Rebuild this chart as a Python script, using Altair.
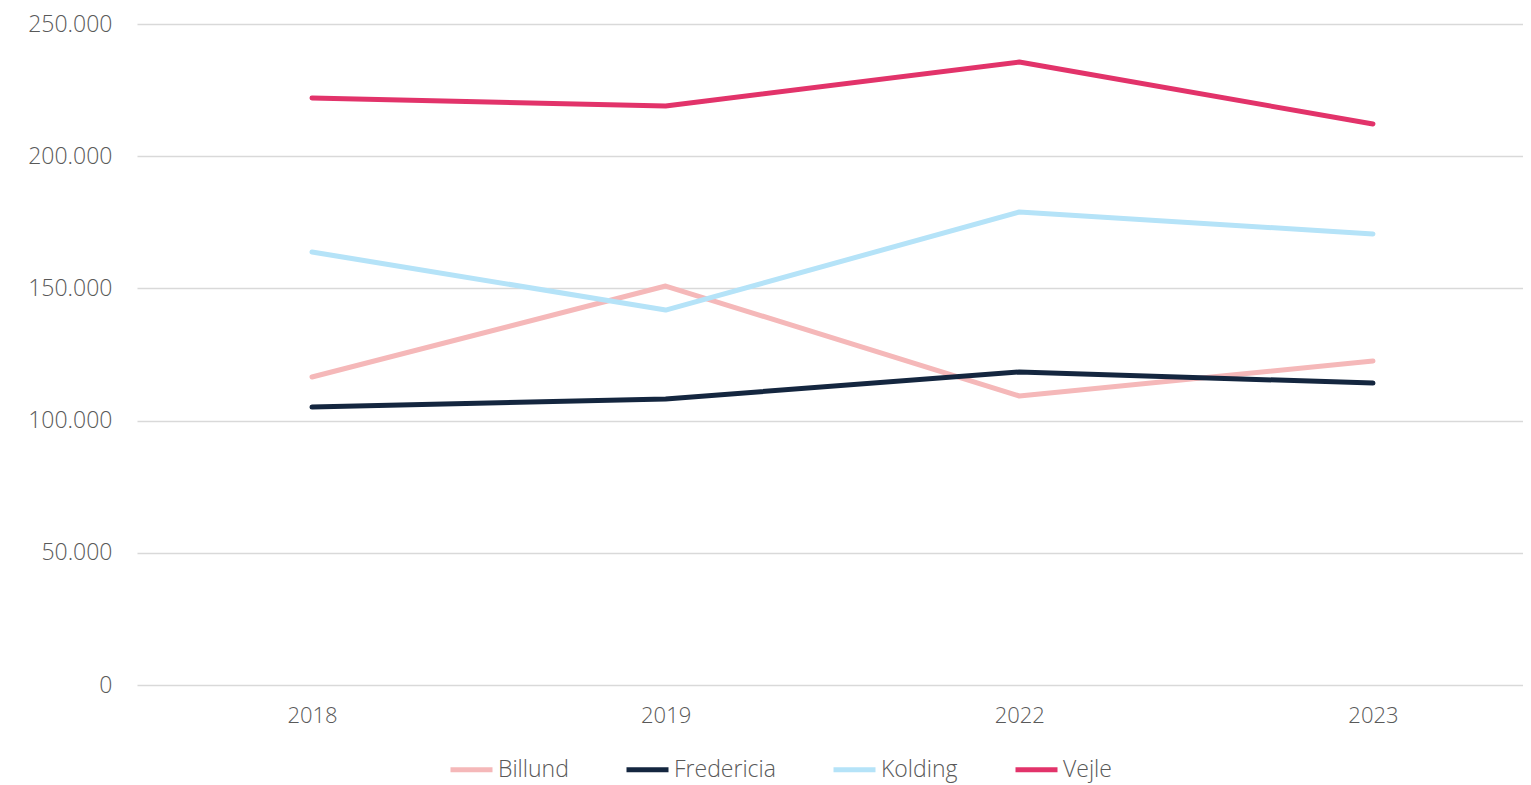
import altair as alt
import pandas as pd

years = ["2018", "2019", "2022", "2023"]
series = ["Billund", "Fredericia", "Kolding", "Vejle"]
billund = [116500, 150900, 109300, 122500]
fredericia = [105100, 108200, 118400, 114200]
kolding = [163800, 141800, 178900, 170600]
vejle = [222000, 219000, 235600, 212200]
colors = ["#F5B8B9", "#14263F", "#B5E3F8", "#E2336A"]

rows = []
for name, vals in zip(series, [billund, fredericia, kolding, vejle]):
    for y, v in zip(years, vals):
        rows.append({"År": y, "Kommune": name, "Værdi": v})
df = pd.DataFrame(rows)

FONT = "Open Sans"
GRAY = "#595959"

chart = alt.Chart(df).mark_line(strokeWidth=5, strokeCap="round", strokeJoin="round").encode(
    x=alt.X("År:O", sort=years,
            scale=alt.Scale(type="point", padding=0.4595, align=0.5384),
            axis=alt.Axis(title=None, labelAngle=0, domain=False, ticks=False,
                          labelPadding=20, labelFontSize=22, labelColor=GRAY, labelFont=FONT,
                          labelFontWeight=300, grid=False)),
    y=alt.Y("Værdi:Q", scale=alt.Scale(domain=[0, 250000], nice=False),
            axis=alt.Axis(title=None, values=[0, 50000, 100000, 150000, 200000, 250000],
                          labelExpr="replace(format(datum.value, ','), /,/g, '.')",
                          domain=False, ticks=False, labelPadding=25, labelFontSize=23,
                          labelColor=GRAY, labelFont=FONT, labelFontWeight=300,
                          gridColor="#D9D9D9", gridWidth=1.5)),
    color=alt.Color("Kommune:N", sort=series,
                    scale=alt.Scale(domain=series, range=colors),
                    legend=alt.Legend(title=None, orient="none", direction="horizontal",
                                      legendX=311, legendY=722,
                                      symbolType="stroke", symbolStrokeWidth=5,
                                      symbolSize=1764, labelFontSize=23, labelColor=GRAY,
                                      labelFont=FONT, labelFontWeight=300, labelOffset=3,
                                      columnPadding=47)),
).properties(
    width=1386, height=661,
    autosize=alt.AutoSizeParams(type="none"),
    padding={"left": 129, "top": 16, "right": 0, "bottom": 98},
).configure_view(stroke=None)

chart.save("out.html", embed_options={"renderer": "svg", "actions": False})
